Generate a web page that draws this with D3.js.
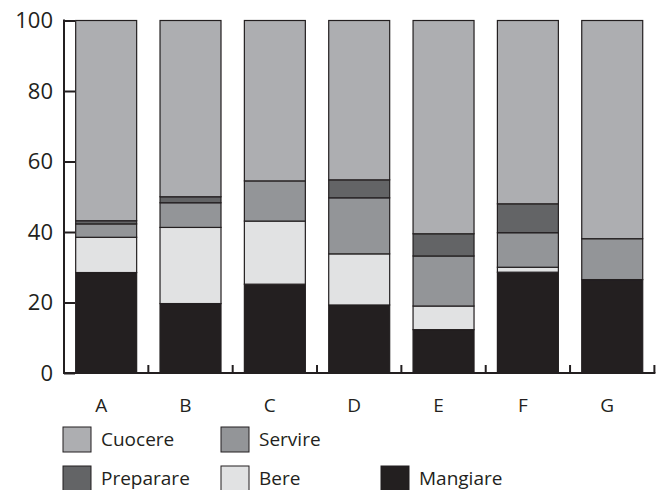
<!DOCTYPE html>
<html>
<head>
<meta charset="utf-8">
<script src="https://cdn.jsdelivr.net/npm/d3@7"></script>
<style>
  html, body { margin: 0; padding: 0; background: #fff; }
  svg { display: block; font-family: "Open Sans", "Noto Sans", sans-serif; }
</style>
</head>
<body>
<svg id="chart" width="656" height="490"></svg>
<script>
const categories = ["A", "B", "C", "D", "E", "F", "G"];
const seriesKeys = ["Mangiare", "Bere", "Servire", "Preparare", "Cuocere"];
const mangiare  = [28.5, 19.7, 25.2, 19.3, 12.3, 28.6, 26.5];
const bere      = [10.0, 21.6, 17.9, 14.5,  6.7,  1.4,  0.0];
const servire   = [ 3.8,  7.0, 11.4, 15.9, 14.2,  9.8, 11.6];
const preparare = [ 0.9,  1.7,  0.0,  5.1,  6.3,  8.2,  0.0];
const cuocere   = [56.8, 50.0, 45.5, 45.2, 60.5, 52.0, 61.9];
const yTicks = [0, 20, 40, 60, 80, 100];
const colors = {
  Cuocere: "#adaeb1",
  Servire: "#939598",
  Preparare: "#636466",
  Bere: "#e1e2e3",
  Mangiare: "#231f20"
};
const legendRows = [["Cuocere", "Servire"], ["Preparare", "Bere", "Mangiare"]];

const rows = categories.map((c, i) => ({
  cat: c,
  Mangiare: mangiare[i], Bere: bere[i], Servire: servire[i],
  Preparare: preparare[i], Cuocere: cuocere[i]
}));

const svg = d3.select("#chart");
const x = d3.scaleBand().domain(categories).range([64, 654.4])
  .paddingInner(0.277).paddingOuter(0.1385);
const y = d3.scaleLinear().domain([0, 100]).range([373, 20.5]);

const stacked = d3.stack().keys(seriesKeys)(rows);

svg.append("g").selectAll("g").data(stacked).join("g")
  .attr("fill", d => colors[d.key])
  .selectAll("rect").data(d => d).join("rect")
  .attr("x", d => x(d.data.cat))
  .attr("y", d => y(d[1]))
  .attr("width", x.bandwidth())
  .attr("height", d => y(d[0]) - y(d[1]))
  .attr("stroke", "#231f20")
  .attr("stroke-width", 1.2);

// Y axis
const yAxis = d3.axisLeft(y).tickValues(yTicks).tickSize(-11).tickPadding(11);
const gy = svg.append("g").attr("transform", "translate(64,0)").call(yAxis);
gy.select(".domain").remove();
gy.selectAll(".tick line").attr("stroke", "#231f20").attr("stroke-width", 2);
gy.selectAll(".tick text").attr("font-size", 22).attr("fill", "#231f20")
  .attr("font-family", "Open Sans, sans-serif");

// axis lines
svg.append("line").attr("x1", 64).attr("x2", 64).attr("y1", y(100) - 1).attr("y2", y(0) + 1)
  .attr("stroke", "#231f20").attr("stroke-width", 2);
svg.append("line").attr("x1", 63).attr("x2", x.range()[1] + 1).attr("y1", y(0)).attr("y2", y(0))
  .attr("stroke", "#231f20").attr("stroke-width", 2);

// X ticks at band boundaries (pointing up)
const boundaries = categories.map(c => x(c) + x.bandwidth() + x.step() * x.paddingInner() / 2);
svg.append("g").selectAll("line").data(boundaries).join("line")
  .attr("x1", d => d).attr("x2", d => d)
  .attr("y1", y(0)).attr("y2", y(0) - 8)
  .attr("stroke", "#231f20").attr("stroke-width", 2);

// category labels
svg.append("g").selectAll("text").data(categories).join("text")
  .attr("x", d => x(d) + x.bandwidth() / 2 - 5)
  .attr("y", 412)
  .attr("text-anchor", "middle")
  .attr("font-size", 19)
  .attr("fill", "#231f20")
  .text(d => d);

// legend
const legendX = [63, 221, 381];
const legendY = [427, 466];
legendRows.forEach((row, r) => {
  row.forEach((key, j) => {
    const g = svg.append("g").attr("transform", `translate(${legendX[j]},${legendY[r]})`);
    g.append("rect").attr("width", 28).attr("height", 25)
      .attr("fill", colors[key]).attr("stroke", "#231f20").attr("stroke-width", 1);
    g.append("text").attr("x", 38).attr("y", 19)
      .attr("font-size", 19).attr("fill", "#231f20").text(key);
  });
});
</script>
</body>
</html>
